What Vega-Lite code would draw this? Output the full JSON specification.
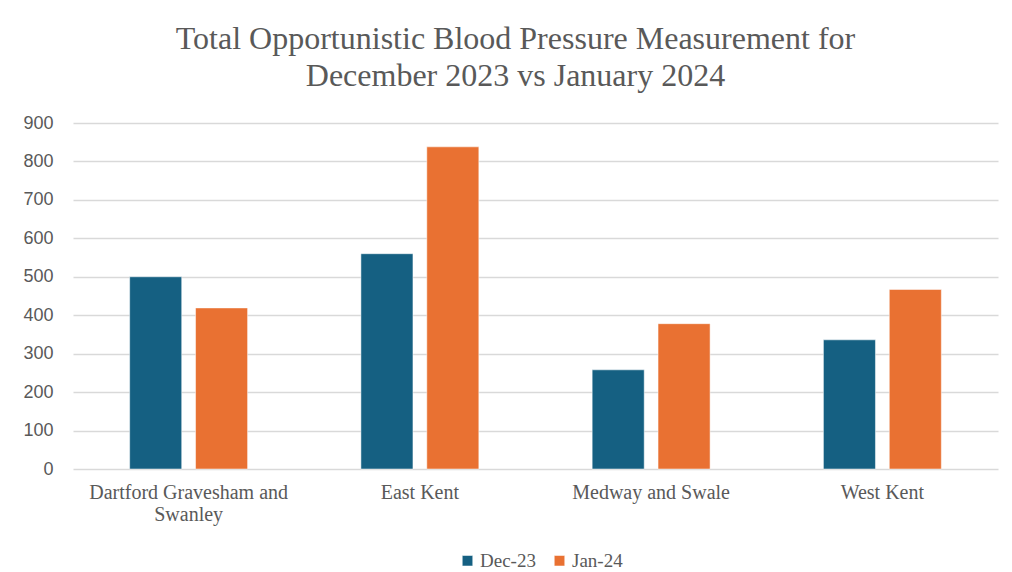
{
  "$schema": "https://vega.github.io/schema/vega-lite/v6.json",
  "width": 925,
  "height": 346,
  "autosize": {"type": "none"},
  "padding": {"left": 73, "top": 123, "right": 14, "bottom": 103},
  "background": "white",
  "title": {
    "text": ["Total Opportunistic Blood Pressure Measurement for", "December 2023 vs January 2024"],
    "font": "Liberation Serif",
    "fontSize": 32,
    "fontWeight": "normal",
    "color": "#595959",
    "anchor": "middle",
    "dx": -20,
    "offset": 21,
    "lineHeight": 37
  },
  "data": {
    "values": [
      {"region": "Dartford Gravesham and Swanley", "month": "Dec-23", "value": 500},
      {"region": "Dartford Gravesham and Swanley", "month": "Jan-24", "value": 419},
      {"region": "East Kent", "month": "Dec-23", "value": 560},
      {"region": "East Kent", "month": "Jan-24", "value": 838},
      {"region": "Medway and Swale", "month": "Dec-23", "value": 258},
      {"region": "Medway and Swale", "month": "Jan-24", "value": 378},
      {"region": "West Kent", "month": "Dec-23", "value": 336},
      {"region": "West Kent", "month": "Jan-24", "value": 467}
    ]
  },
  "mark": {"type": "bar"},
  "encoding": {
    "x": {
      "field": "region",
      "type": "nominal",
      "sort": null,
      "scale": {"paddingInner": 0, "paddingOuter": 0},
      "axis": {
        "title": null,
        "labelAngle": 0,
        "labelFont": "Liberation Serif",
        "labelFontSize": 20,
        "labelColor": "#595959",
        "labelPadding": 13,
        "labelLineHeight": 22,
        "labelLimit": 0,
        "labelExpr": "datum.label == 'Dartford Gravesham and Swanley' ? ['Dartford Gravesham and', 'Swanley'] : datum.label",
        "domain": false,
        "ticks": false,
        "grid": false
      }
    },
    "xOffset": {
      "field": "month",
      "type": "nominal",
      "scale": {"paddingInner": 0.21, "paddingOuter": 0.86}
    },
    "y": {
      "field": "value",
      "type": "quantitative",
      "scale": {"domain": [0, 900]},
      "axis": {
        "title": null,
        "values": [0, 100, 200, 300, 400, 500, 600, 700, 800, 900],
        "labelFont": "Liberation Sans",
        "labelFontSize": 18,
        "labelColor": "#595959",
        "labelPadding": 20,
        "domain": false,
        "ticks": false,
        "gridColor": "#d9d9d9",
        "gridWidth": 1.3
      }
    },
    "color": {
      "field": "month",
      "type": "nominal",
      "scale": {"domain": ["Dec-23", "Jan-24"], "range": ["#156082", "#e97132"]},
      "legend": {
        "title": null,
        "orient": "none",
        "legendX": 385,
        "legendY": 428,
        "direction": "horizontal",
        "symbolType": "square",
        "symbolSize": 110,
        "symbolStrokeWidth": 0,
        "labelFont": "Liberation Serif",
        "labelFontSize": 19,
        "labelColor": "#595959",
        "labelOffset": 3,
        "columnPadding": 14
      }
    }
  },
  "config": {
    "view": {"stroke": null},
    "bar": {"stroke": "white", "strokeWidth": 0.5}
  }
}
